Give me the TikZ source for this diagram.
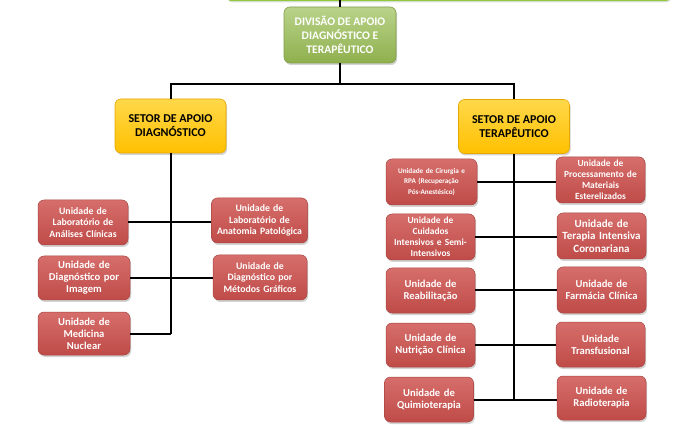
\documentclass[tikz,border=0pt]{standalone}
\usepackage{fontspec}
\setmainfont{Carlito}
\usetikzlibrary{shadows,shadings}
\definecolor{gtop}{HTML}{B9D38A}
\definecolor{gbot}{HTML}{8FB04E}
\definecolor{gline}{HTML}{92C83E}
\definecolor{ytop}{HTML}{FFD84A}
\definecolor{ybot}{HTML}{FFC000}
\definecolor{yedge}{HTML}{E5A800}
\definecolor{rtop}{HTML}{D66E6B}
\definecolor{rbot}{HTML}{BF4B48}
\definecolor{redge}{HTML}{A94441}
\tikzset{
  box/.style={rounded corners=6pt, align=center, inner sep=1pt, font=\bfseries,
    drop shadow={opacity=0.35, shadow xshift=1.2pt, shadow yshift=-2pt}},
  greenbox/.style={box, top color=gtop, bottom color=gbot, draw=gbot!90!black, line width=0.6pt,
    text=white, minimum width=112pt, minimum height=56pt, font=\bfseries\fontsize{11.6}{14}\selectfont},
  yellowbox/.style={box, top color=ytop, bottom color=ybot, draw=yedge, line width=0.6pt,
    text=black, minimum width=111pt, minimum height=54pt, font=\bfseries\fontsize{12}{14}\selectfont},
  redbox/.style={box, top color=rtop, bottom color=rbot, draw=redge, line width=0.5pt,
    text=white, minimum width=89pt, minimum height=45pt, text width=87pt},
  fb/.style={font=\bfseries\fontsize{9.8}{11.8}\selectfont},
  fc/.style={font=\bfseries\fontsize{10.6}{12}\selectfont},
  fd/.style={font=\bfseries\fontsize{11}{12.5}\selectfont},
  fe/.style={font=\bfseries\fontsize{7.2}{10.3}\selectfont},
  ff/.style={font=\bfseries\fontsize{9.4}{11}\selectfont},
  conn/.style={line width=2pt, black},
}
\begin{document}
\begin{tikzpicture}[x=1pt,y=-1pt]
\useasboundingbox (0,0) rectangle (673,425);
\begin{scope}
\clip (0,0) rectangle (673,425);
\fill[gline, rounded corners=6pt, drop shadow={opacity=0.25, shadow xshift=1pt, shadow yshift=-1.2pt}] (226,-20) rectangle (671,1.2);
\end{scope}
\coordinate (top) at (340,0);
\node[greenbox] (div) at (340,35) {DIVISÃO DE APOIO\\DIAGNÓSTICO E\\TERAPÊUTICO};
\node[yellowbox] (sd) at (170.5,126) {SETOR DE APOIO\\DIAGNÓSTICO};
\node[yellowbox] (st) at (514,126.5) {SETOR DE APOIO\\TERAPÊUTICO};
% left units
\node[redbox, fb, minimum width=90pt] (la) at (83,222.5) {Unidade de\\Laboratório de\\Análises Clínicas};
\node[redbox, fc, minimum width=92pt, minimum height=44pt] (di) at (84,278) {Unidade de\\Diagnóstico por\\Imagem};
\node[redbox, fc, minimum width=92pt, minimum height=43pt] (mn) at (84,333.5) {Unidade de\\Medicina\\Nuclear};
\node[redbox, fb, minimum width=95pt, text width=94pt] (ap) at (259.5,220.5) {Unidade de\\Laboratório de\\Anatomia Patológica};
\node[redbox, fb, minimum width=94pt] (mg) at (260,277.5) {Unidade de\\Diagnóstico por\\Métodos Gráficos};
% right units
\node[redbox, fe, minimum width=91pt, minimum height=46pt] (cr) at (431.5,182) {Unidade de Cirurgia e\\RPA (Recuperação\\Pós-Anestésico)};
\node[redbox, ff, minimum height=46pt] (pm) at (600.5,180) {Unidade de\\Processamento de\\Materiais\\Esterelizados};
\node[redbox, ff, minimum height=46pt] (ci) at (430.5,237) {Unidade de\\Cuidados\\Intensivos e Semi-\\Intensivos};
\node[redbox, fd, minimum height=46pt] (tc) at (601.5,236) {Unidade de\\Terapia Intensiva\\Coronariana};
\node[redbox, fc] (re) at (430.5,290.5) {Unidade de\\Reabilitação};
\node[redbox, fc, minimum height=46pt] (fcl) at (601.5,290) {Unidade de\\Farmácia Clínica};
\node[redbox, fc, minimum height=44pt] (nc) at (430.5,345) {Unidade de\\Nutrição Clínica};
\node[redbox, fc] (tr) at (600.5,344.5) {Unidade\\Transfusional};
\node[redbox, fc, minimum width=88pt] (qt) at (429,399.5) {Unidade de\\Quimioterapia};
\node[redbox, fc, minimum height=44pt] (rt) at (601.5,398) {Unidade de\\Radioterapia};
% connectors
\draw[conn] (top) -- (div.north);
\draw[conn] (div.south) -- ++(0,21) -| (sd.north);
\draw[conn] (div.south) -- ++(0,21) -| (st.north);
\draw[conn] (sd.south) -- (sd.south |- mn.east);
\draw[conn] (la.east) -- (la.east -| ap.west);
\draw[conn] (di.east) -- (di.east -| mg.west);
\draw[conn] (mn.east) -- (mn.east -| sd.south);
\draw[conn] (st.south) -- (st.south |- qt.east);
\draw[conn] (cr.east) -- (cr.east -| pm.west);
\draw[conn] (ci.east) -- (ci.east -| tc.west);
\draw[conn] (re.east) -- (re.east -| fcl.west);
\draw[conn] (nc.east) -- (nc.east -| tr.west);
\draw[conn] (qt.east) -- (qt.east -| rt.west);
\end{tikzpicture}
\end{document}
